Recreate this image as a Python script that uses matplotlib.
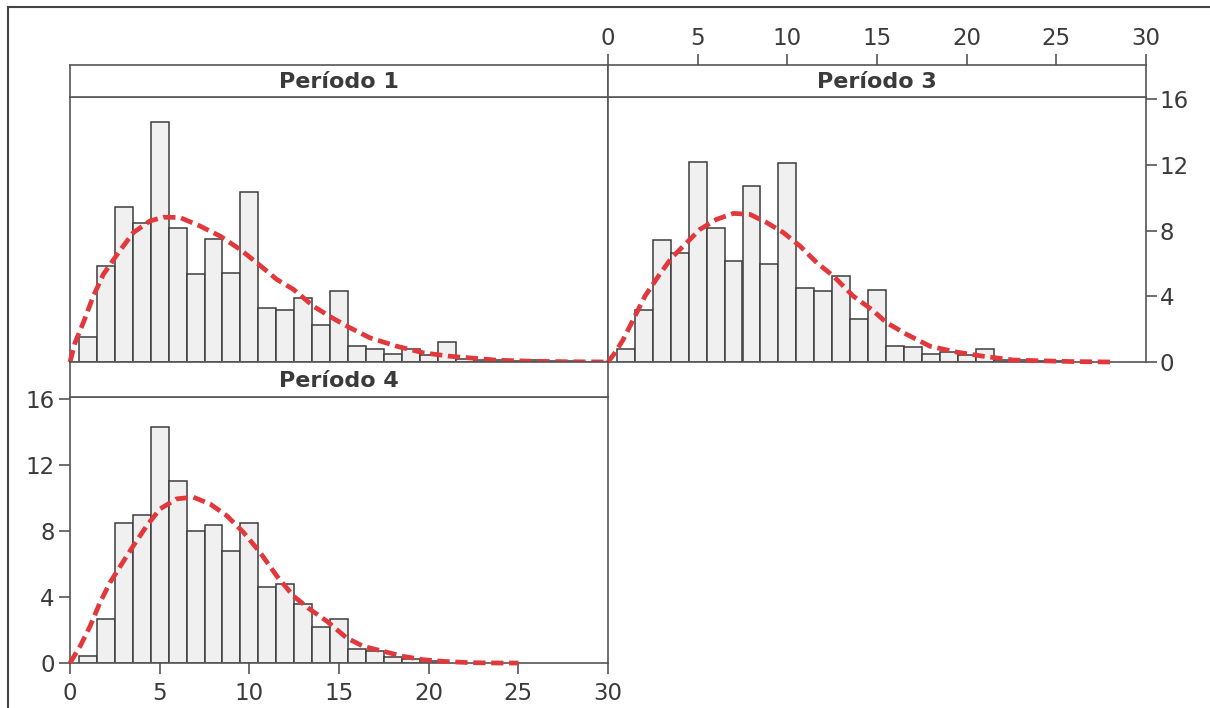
import matplotlib
matplotlib.use("Agg")
import matplotlib.pyplot as plt
from matplotlib.lines import Line2D

# ---------------- data ----------------
bin_centers_p1 = list(range(1, 29))
counts_p1 = [1.5, 5.85, 9.45, 8.45, 14.6, 8.15, 5.35, 7.5, 5.45, 10.35,
             3.3, 3.15, 3.9, 2.25, 4.3, 1.0, 0.8, 0.5, 0.8, 0.45,
             1.2, 0.2, 0.1, 0.1, 0.05, 0.1, 0.05, 0.05]

bin_centers_p3 = list(range(1, 26))
counts_p3 = [0.8, 3.15, 7.45, 6.65, 12.2, 8.15, 6.15, 10.7, 5.95, 12.1,
             4.5, 4.3, 5.25, 2.6, 4.4, 1.0, 0.9, 0.5, 0.6, 0.4,
             0.8, 0.1, 0.1, 0.05, 0.05]

bin_centers_p4 = list(range(1, 21))
counts_p4 = [0.4, 2.7, 8.5, 9.0, 14.3, 11.05, 8.0, 8.4, 6.8, 8.5,
             4.6, 4.8, 3.55, 2.2, 2.7, 0.85, 0.75, 0.35, 0.25, 0.1]

curve_x_p1 = [0.0, 0.28, 0.74, 1.30, 1.86, 2.70, 3.53, 4.46, 5.20, 6.13,
              7.25, 8.37, 9.48, 10.41, 11.53, 12.46, 13.57, 14.60, 15.62,
              16.73, 18.22, 19.70, 21.19, 22.3, 23.8, 25.66, 27.5, 30.0]
curve_y_p1 = [0.0, 1.17, 2.39, 4.01, 5.34, 6.66, 7.88, 8.59, 8.82, 8.80,
              8.28, 7.67, 6.86, 6.05, 5.03, 4.42, 3.40, 2.70, 2.08,
              1.47, 0.96, 0.56, 0.35, 0.25, 0.11, 0.05, 0.02, 0.0]

curve_x_p3 = [0.0, 0.39, 0.85, 1.41, 2.06, 2.81, 3.55, 4.39, 5.13, 6.06,
              6.99, 7.92, 8.85, 9.78, 10.71, 11.64, 12.57, 13.68, 14.70,
              15.54, 16.66, 17.96, 19.45, 20.93, 22.6, 23.9, 25.77, 28.0]
curve_y_p3 = [0.0, 0.56, 1.37, 2.59, 4.01, 5.23, 6.35, 7.27, 8.08, 8.69,
              9.05, 8.99, 8.49, 7.88, 7.06, 6.05, 5.23, 4.01, 3.20,
              2.39, 1.68, 0.96, 0.60, 0.35, 0.12, 0.08, 0.03, 0.0]

curve_x_p4 = [0.0, 0.56, 1.12, 1.67, 2.23, 2.88, 3.53, 4.28, 5.02, 5.95,
              6.88, 7.81, 8.74, 9.67, 10.60, 11.53, 12.46, 13.39, 14.32,
              15.43, 16.36, 17.47, 18.59, 19.70, 20.82, 22.3, 23.8, 25.0]
curve_y_p4 = [0.0, 1.01, 2.23, 3.66, 4.88, 6.00, 7.11, 8.33, 9.35, 9.96,
              10.06, 9.65, 8.94, 7.93, 6.71, 5.28, 4.06, 3.25, 2.54,
              1.52, 1.01, 0.71, 0.40, 0.20, 0.10, 0.02, 0.0, 0.0]

panel_titles = ["Período 1", "Período 3", "Período 4"]
x_ticks = [0, 5, 10, 15, 20, 25, 30]
y_ticks = [0, 4, 8, 12, 16]

# ---------------- styling ----------------
W, H = 1210, 708
FRAME = "#555555"
TXT = "#3a3a3a"
BAR_FACE = "#f0f0f0"
BAR_EDGE = "#3c3c3c"
RED = "#e2383c"
XMAX, YMAX = 30, 16.14

plt.rcParams["font.family"] = ["DejaVu Sans"]

fig = plt.figure(figsize=(W / 100, H / 100), dpi=100)
fig.patch.set_facecolor("white")


def fx(px):
    return px / W


def fy(py):
    return 1 - py / H


def rect(x0, y0, x1, y1):
    return [fx(x0), fy(y1), fx(x1) - fx(x0), fy(y0) - fy(y1)]


def plot_panel(pos, centers, counts, cx, cy):
    ax = fig.add_axes(pos)
    ax.bar(centers, counts, width=1.0, color=BAR_FACE, edgecolor=BAR_EDGE,
           linewidth=1.1, zorder=2)
    ax.plot(cx, cy, color=RED, lw=3.4, linestyle=(0, (2.6, 1.2)),
            solid_capstyle="butt", dash_capstyle="butt", zorder=3,
            clip_on=False)
    ax.set_xlim(0, XMAX)
    ax.set_ylim(0, YMAX)
    for s in ax.spines.values():
        s.set_color(FRAME)
        s.set_linewidth(1.2)
    ax.set_xticks([])
    ax.set_yticks([])
    return ax


def strip(pos, title):
    ax = fig.add_axes(pos)
    ax.set_xlim(0, XMAX)
    ax.set_ylim(0, 1)
    for s in ax.spines.values():
        s.set_color(FRAME)
        s.set_linewidth(1.2)
    ax.set_xticks([])
    ax.set_yticks([])
    ax.text(0.5, 0.47, title, transform=ax.transAxes, ha="center",
            va="center", fontsize=16, fontweight="bold", color=TXT)
    return ax


tick_kw = dict(length=8, width=1.2, color=FRAME, labelcolor=TXT,
               labelsize=16.5, direction="out")

# Panel 1 (top-left)
ax1 = plot_panel(rect(70, 97, 608, 362), bin_centers_p1, counts_p1,
                 curve_x_p1, curve_y_p1)
s1 = strip(rect(70, 65, 608, 97), panel_titles[0])

# Panel 3 (top-right)
ax3 = plot_panel(rect(608, 97, 1146, 362), bin_centers_p3, counts_p3,
                 curve_x_p3, curve_y_p3)
ax3.yaxis.tick_right()
ax3.set_yticks(y_ticks)
ax3.tick_params(axis="y", which="both", left=False, right=True,
                labelleft=False, labelright=True, pad=2, **tick_kw)
s3 = strip(rect(608, 65, 1146, 97), panel_titles[1])
s3.xaxis.tick_top()
s3.set_xticks(x_ticks)
s3.tick_params(axis="x", top=True, bottom=False, labeltop=True,
               labelbottom=False, pad=3, **tick_kw)

# Panel 4 (bottom-left)
ax4 = plot_panel(rect(70, 397, 608, 663), bin_centers_p4, counts_p4,
                 curve_x_p4, curve_y_p4)
ax4.set_xticks(x_ticks)
ax4.set_yticks(y_ticks)
ax4.tick_params(axis="x", pad=6, **tick_kw)
ax4.tick_params(axis="y", pad=3, **tick_kw)
s4 = strip(rect(70, 362, 608, 397), panel_titles[2])

# Outer border
fig.add_artist(Line2D([fx(8), fx(8)], [fy(7), 0], transform=fig.transFigure,
                      color="#444444", lw=1.5))
fig.add_artist(Line2D([fx(8), 1], [fy(7), fy(7)], transform=fig.transFigure,
                      color="#444444", lw=1.5))

fig.savefig("out.png", dpi=100, facecolor="white")
